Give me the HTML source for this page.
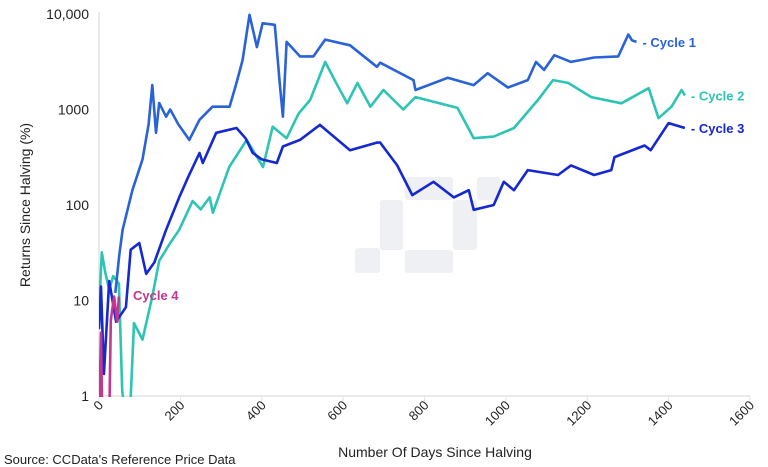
<!DOCTYPE html>
<html><head><meta charset="utf-8"><style>
html,body{margin:0;padding:0;background:#fff;}
svg{display:block;font-family:"Liberation Sans",sans-serif;}
</style></head><body>
<svg id="chart" width="768" height="467" viewBox="0 0 768 467">
<defs><clipPath id="plot"><rect x="99" y="5" width="660" height="392"/></clipPath></defs>
<g fill="#eef0f3">
<rect x="355" y="248" width="25" height="25" rx="3"/><rect x="380" y="200" width="23" height="50" rx="3"/><rect x="405" y="177" width="48" height="23" rx="3"/><rect x="405" y="250" width="48" height="23" rx="3"/><rect x="453" y="200" width="24" height="50" rx="3"/><rect x="477" y="177" width="23" height="23" rx="3"/>
</g>
<g id="axes"></g>
<g id="series" clip-path="url(#plot)"></g>
<g id="labels"></g>
<text x="30" y="205" transform="rotate(-90 30 205)" text-anchor="middle" font-size="14" fill="#222">Returns Since Halving (%)</text>
<text x="435" y="457" text-anchor="middle" font-size="14" fill="#222">Number Of Days Since Halving</text>
<text x="4" y="464" font-size="13" fill="#222">Source: CCData's Reference Price Data</text>
</svg>
<script>
const xTicks=[0,200,400,600,800,1000,1200,1400,1600];
const yTicks=[1,10,100,1000,10000];
const yTickLabels=["1","10","100","1000","10,000"];
const cycle1Days=[40,50,58,82,107,122,131,140,148,165,175,195,222,247,279,321,338,353,370,388,402,432,444,452,461,494,527,556,617,683,691,773,778,857,921,955,1005,1054,1074,1094,1119,1160,1217,1276,1301,1310,1321];
const cycle1Vals=[12,30,55,143,300,700,1800,570,1170,840,1000,700,480,780,1070,1070,1900,3300,9800,4500,8000,7700,1900,840,5100,3600,3600,5400,4700,2800,3090,2030,1600,2150,1800,2400,1700,2030,3150,2600,3700,3150,3500,3600,6100,5300,5100];
const cycle2Days=[0,7,15,25,35,49,57,66,75,86,107,131,148,175,197,230,250,272,280,320,363,403,427,461,490,519,556,580,610,635,667,699,748,778,881,921,970,1020,1079,1116,1153,1210,1284,1351,1375,1407,1432,1440];
const cycle2Vals=[8,32,20,13,18,15,1.15,0.5,0.5,5.8,3.9,11,26,40,55,110,90,120,83,250,480,250,660,500,900,1260,3150,2000,1160,1900,1070,1600,1000,1350,1040,500,520,640,1260,2030,1900,1350,1160,1670,810,1070,1600,1400];
const cycle3Days=[0,5,12,25,42,66,78,99,116,136,165,197,220,247,255,288,338,360,378,400,437,452,494,543,617,683,691,733,770,822,872,909,921,970,995,1020,1054,1128,1160,1217,1259,1267,1341,1356,1400,1440];
const cycle3Vals=[5,14,1.7,16,6,8.5,34,40,19,25,55,120,200,350,275,570,640,500,350,300,275,410,480,690,375,450,450,260,127,175,120,143,89,100,175,143,232,206,260,206,232,317,420,375,720,640];
const cycle4Days=[0,5,8,25,29,37,45,49];
const cycle4Vals=[0.5,4.6,0.5,0.5,6.2,11,6,11];
const seriesNames=["Cycle 1","Cycle 2","Cycle 3","Cycle 4"];
const NS="http://www.w3.org/2000/svg";
const x=d=>99+d*(651/1600);
const y=v=>396-Math.log10(v)*95.5;
function mk(tag,attrs,parent){const e=document.createElementNS(NS,tag);for(const k in attrs)e.setAttribute(k,attrs[k]);parent.appendChild(e);return e;}
const axes=document.getElementById('axes');
const ya=mk('line',{x1:99,x2:99,y1:12,y2:396,stroke:'#e3e3e3','stroke-width':1.5},axes);


const xa=mk('line',{x1:99,x2:750,y1:396,y2:396,stroke:'#e3e3e3','stroke-width':1.5},axes);


yTicks.forEach((v,i)=>{
 const t=mk('text',{x:89,y:y(v)+5,'text-anchor':'end','font-size':14,fill:'#222'},axes);t.textContent=yTickLabels[i];
 
 
});
xTicks.forEach(d=>{
 const tk=mk('line',{x1:x(d),x2:x(d),y1:396,y2:402,stroke:'#e3e3e3'},axes);
 
 
 const px=x(d)+5,py=406;
 const t=mk('text',{x:px,y:py,'text-anchor':'end','font-size':13,fill:'#222',transform:`rotate(-45 ${px} ${py})`},axes);t.textContent=d;
 
 
});
const ser=document.getElementById('series');
const defs=[[cycle2Days,cycle2Vals,'#2ec4b3','cycle-2-line'],[cycle1Days,cycle1Vals,'#2a62d8','cycle-1-line'],[cycle3Days,cycle3Vals,'#1628d0','cycle-3-line'],[cycle4Days,cycle4Vals,'#c2378f','cycle-4-line']];
defs.forEach(([ds,vs,c,n])=>{
 const p=mk('polyline',{points:ds.map((d,i)=>x(d).toFixed(1)+','+y(vs[i]).toFixed(1)).join(' '),fill:'none',stroke:c,'stroke-width':2.6,'stroke-linejoin':'round'},ser);
 
 
});
const lab=document.getElementById('labels');
const lp=[[cycle1Days,cycle1Vals,'#2a62d8','- '],[cycle2Days,cycle2Vals,'#2ec4b3','- '],[cycle3Days,cycle3Vals,'#1628d0','- ']];
lp.forEach(([ds,vs,c,pre],i)=>{
 const L=ds.length-1;
 const t=mk('text',{x:x(ds[L])+6,y:y(vs[L])+5,'font-size':13,'font-weight':'bold',fill:c},lab);
 t.textContent=pre+seriesNames[i];
 
 
});
const t4=mk('text',{x:133,y:300,'font-size':13,'font-weight':'bold',fill:'#c2378f'},lab);
t4.textContent=seriesNames[3];


</script>
</body></html>
